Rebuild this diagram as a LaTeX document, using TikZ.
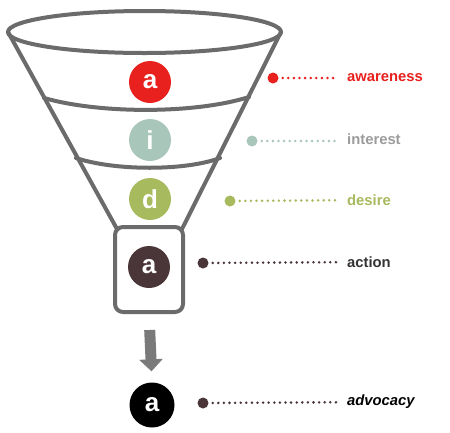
\documentclass[tikz,border=0pt]{standalone}
\usepackage{fontspec}
\setmainfont{Liberation Sans}
\usetikzlibrary{arrows.meta}
\definecolor{funnelgray}{HTML}{6B6B6B}
\definecolor{arrowgray}{HTML}{7A7A7A}
\definecolor{cred}{HTML}{E8211F}
\definecolor{cint}{HTML}{A9C6BA}
\definecolor{cinttext}{HTML}{9C9C9C}
\definecolor{cdes}{HTML}{A8BA5E}
\definecolor{cact}{HTML}{4A3538}
\definecolor{cacttext}{HTML}{333333}
\begin{document}
\begin{tikzpicture}[x=1pt,y=-1pt,
  funnel/.style={draw=funnelgray,line width=4pt,line cap=round,line join=round},
  stage/.style={circle,minimum size=42pt,inner sep=0pt,text=white,font=\fontsize{26}{26}\selectfont\bfseries},
  bullet/.style={circle,minimum size=11pt,inner sep=0pt},
  lab/.style={anchor=west,inner sep=1pt,font=\fontsize{14.8}{17}\selectfont\bfseries},
  dots/.style={line width=2.8pt,line cap=round,dash pattern=on 0pt off 5.6pt,shorten <=4pt,shorten >=8pt}]
\useasboundingbox (0,0) rectangle (450,432);
\fill[white] (0,0) rectangle (450,432);
% funnel
\draw[funnel] (144.5,32) ellipse [x radius=136.5, y radius=21];
\draw[funnel] (8,32) -- (117,229);
\draw[funnel] (281,32) -- (182,229);
\draw[funnel] (44,98) .. controls (100,114) and (195,114) .. (249,97);
\draw[funnel] (76,158) .. controls (115,171) and (185,171) .. (220,158);
\node[funnel,rounded corners=8pt,minimum width=68pt,minimum height=85pt,inner sep=0pt] (box) at (149,269.5) {};
% stage circles
\node[stage,fill=cred] (sa) at (150,82) {a};
\node[stage,fill=cint] (si) at (150,140) {i};
\node[stage,fill=cdes] (sd) at (150,199) {d};
\node[stage,fill=cact] (sac) at (149,267) {a};
\node[stage,fill=black,minimum size=45pt] (sadv) at (152,405) {a};
% arrow
\draw[arrowgray,line width=11pt,-{Triangle[width=23pt,length=12pt]},shorten <=16pt,shorten >=11pt] (box.south) -- (sadv.north);
% labels
\node[bullet,fill=cred] (ba) at (273,78) {};
\node[lab,text=cred] (la) at (346,78) {awareness};
\draw[cred,dots] (ba) -- (la);
\node[bullet,fill=cint] (bi) at (252,141) {};
\node[lab,text=cinttext] (li) at (346,139) {interest};
\node[coordinate] (lie) at (346,141) {};
\draw[cint,dots] (bi) -- (lie);
\node[bullet,fill=cdes] (bd) at (230,201) {};
\node[lab,text=cdes] (ld) at (346,200) {desire};
\draw[cdes,dots] (bd) -- (ld);
\node[bullet,fill=cact] (bac) at (203,263) {};
\node[lab,text=cacttext] (lac) at (346,262) {action};
\draw[cact,dots] (bac) -- (lac);
\node[bullet,fill=cact] (badv) at (203,403) {};
\node[lab,text=black,font=\fontsize{14.8}{17}\selectfont\bfseries\itshape] (ladv) at (346,402) {advocacy};
\draw[cact,dots] (badv) -- (ladv);
\end{tikzpicture}
\end{document}
